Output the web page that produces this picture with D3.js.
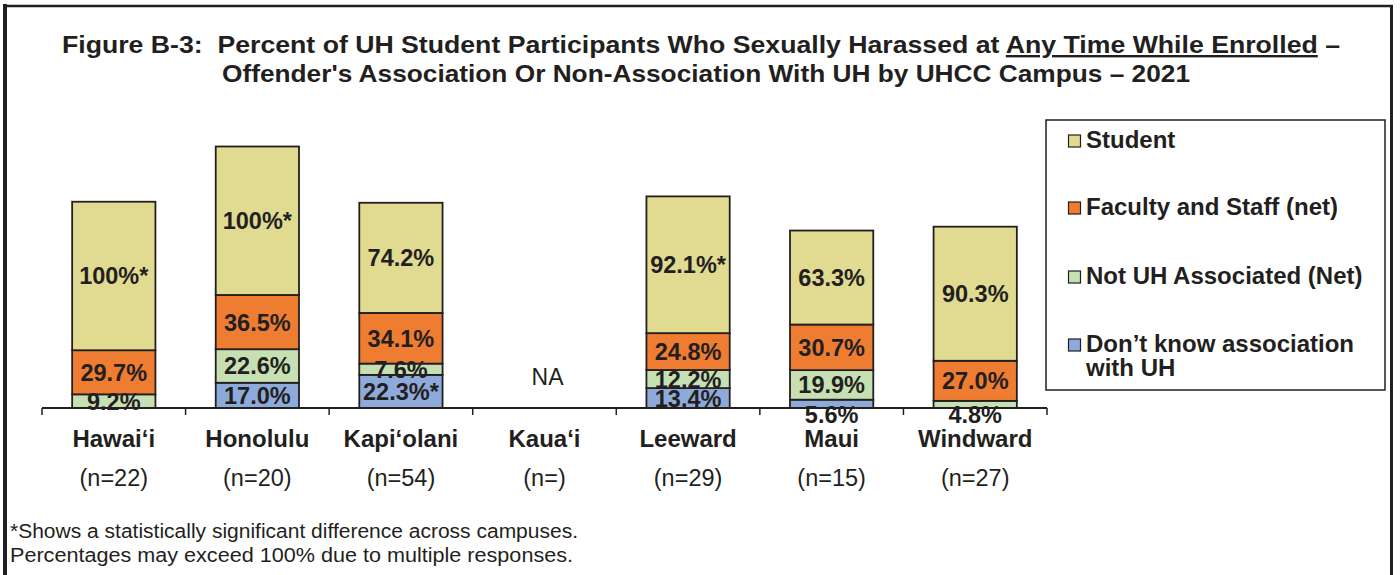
<!DOCTYPE html>
<html>
<head>
<meta charset="utf-8">
<script src="https://cdn.jsdelivr.net/npm/d3@7"></script>
<style>
  body { margin: 0; background: #fff; }
  text { font-family: "Liberation Sans", Arial, sans-serif; fill: #231f20; white-space: pre; }
</style>
</head>
<body>
<script>
const campuses = ["Hawai‘i", "Honolulu", "Kapi‘olani", "Kaua‘i", "Leeward", "Maui", "Windward"];
const nLabels = ["(n=22)", "(n=20)", "(n=54)", "(n=)", "(n=29)", "(n=15)", "(n=27)"];
const dontKnow = [null, 17.0, 22.3, null, 13.4, 5.6, null];
const notUH = [9.2, 22.6, 7.6, null, 12.2, 19.9, 4.8];
const faculty = [29.7, 36.5, 34.1, null, 24.8, 30.7, 27.0];
const student = [100, 100, 74.2, null, 92.1, 63.3, 90.3];
// asterisk = significant difference across campuses
const sigDontKnow = [false, false, true, false, false, false, false];
const sigStudent = [true, true, false, false, true, false, false];
const seriesNames = ["Student", "Faculty and Staff (net)", "Not UH Associated (Net)", "Don’t know association|with UH"];

const W = 1400, H = 575;
const keys = ["dontKnow", "notUH", "faculty", "student"];
const colors = { dontKnow: "#8eaadb", notUH: "#c6e0b4", faculty: "#ee7d31", student: "#e0db91" };
const sigs = { dontKnow: sigDontKnow, student: sigStudent };
const vals = { dontKnow, notUH, faculty, student };

const rows = campuses.map((c, i) => ({
  campus: c, i: i, na: student[i] == null,
  dontKnow: dontKnow[i] || 0, notUH: notUH[i] || 0, faculty: faculty[i] || 0, student: student[i] || 0
}));

const svg = d3.select("body").append("svg").attr("width", W).attr("height", H);

// frame
svg.append("line").attr("x1", 5).attr("x2", 5).attr("y1", 4).attr("y2", H)
  .attr("stroke", "#231f20").attr("stroke-width", 4);
svg.append("line").attr("x1", 3).attr("x2", 1393).attr("y1", 6).attr("y2", 6)
  .attr("stroke", "#231f20").attr("stroke-width", 2.5);
svg.append("line").attr("x1", 1391.5).attr("x2", 1391.5).attr("y1", 5).attr("y2", H)
  .attr("stroke", "#231f20").attr("stroke-width", 3);

// title
const t1 = svg.append("text").attr("x", 62).attr("y", 53)
  .attr("font-size", 24).attr("font-weight", "bold")
  .attr("textLength", 1278).attr("lengthAdjust", "spacingAndGlyphs");
t1.append("tspan").text("Figure B-3:  Percent of UH Student Participants Who Sexually Harassed at ");
t1.append("tspan").attr("text-decoration", "underline").text("Any Time While Enrolled");
t1.append("tspan").text(" –");
svg.append("text").attr("x", 222).attr("y", 82)
  .attr("font-size", 24).attr("font-weight", "bold")
  .attr("textLength", 968).attr("lengthAdjust", "spacingAndGlyphs")
  .text("Offender's Association Or Non-Association With UH by UHCC Campus – 2021");

// scales
const x = d3.scaleBand().domain(campuses).range([42, 1047]).paddingInner(0.42).paddingOuter(0.21);
const y = d3.scaleLinear().domain([0, 180]).range([408, 408 - 180 * 1.485]);

const stack = d3.stack().keys(keys)(rows);

const g = svg.append("g");
stack.forEach(layer => {
  g.selectAll(null)
    .data(layer.filter(d => !d.data.na && d[1] - d[0] > 0))
    .join("rect")
    .attr("x", d => x(d.data.campus))
    .attr("y", d => y(d[1]))
    .attr("width", x.bandwidth())
    .attr("height", d => y(d[0]) - y(d[1]))
    .attr("fill", colors[layer.key])
    .attr("stroke", "#231f20")
    .attr("stroke-width", 1.8);
});

// value labels
stack.forEach(layer => {
  g.selectAll(null)
    .data(layer.filter(d => !d.data.na && d[1] - d[0] > 0))
    .join("text")
    .attr("x", d => x(d.data.campus) + x.bandwidth() / 2)
    .attr("y", d => {
      const h = y(d[0]) - y(d[1]);
      if (h < 10) return y(0) + 15;
      return (y(d[0]) + y(d[1])) / 2 + 8.5;
    })
    .attr("text-anchor", "middle")
    .attr("font-size", 23.5).attr("font-weight", "bold")
    .text(d => {
      const v = vals[layer.key][d.data.i];
      const s = sigs[layer.key] && sigs[layer.key][d.data.i] ? "*" : "";
      return (v === 100 ? "100" : v.toFixed(1)) + "%" + s;
    });
});

// NA
svg.selectAll(null).data(rows.filter(d => d.na)).join("text")
  .attr("x", d => x(d.campus) + x.bandwidth() / 2 + 3)
  .attr("y", 385)
  .attr("text-anchor", "middle").attr("font-size", 23)
  .text("NA");

// axis
const axis = svg.append("g");
axis.append("line").attr("x1", 42).attr("x2", 1047).attr("y1", y(0)).attr("y2", y(0))
  .attr("stroke", "#231f20").attr("stroke-width", 2);
const bounds = campuses.map(c => x(c) - x.step() * x.paddingInner() / 2).concat([1047]);
bounds[0] = 42;
axis.selectAll(null).data(bounds).join("line")
  .attr("x1", d => d).attr("x2", d => d)
  .attr("y1", y(0)).attr("y2", y(0) + 7)
  .attr("stroke", "#231f20").attr("stroke-width", 1.5);

axis.selectAll(null).data(campuses).join("text")
  .attr("x", d => x(d) + x.bandwidth() / 2)
  .attr("y", 447)
  .attr("text-anchor", "middle")
  .attr("font-size", 24).attr("font-weight", "bold")
  .text(d => d);

axis.selectAll(null).data(nLabels).join("text")
  .attr("x", (d, i) => x(campuses[i]) + x.bandwidth() / 2)
  .attr("y", 486)
  .attr("text-anchor", "middle")
  .attr("font-size", 23.5)
  .text(d => d);

// legend
const legend = svg.append("g");
legend.append("rect").attr("x", 1046).attr("y", 120).attr("width", 339).attr("height", 270)
  .attr("fill", "#fff").attr("stroke", "#231f20").attr("stroke-width", 1.5);
const legendKeys = ["student", "faculty", "notUH", "dontKnow"];
const legendY = [148, 215, 284, 352];
legendKeys.forEach((k, i) => {
  legend.append("rect")
    .attr("x", 1068.5).attr("y", legendY[i] - 13).attr("width", 12).attr("height", 12)
    .attr("fill", colors[k]).attr("stroke", "#231f20").attr("stroke-width", 1.2);
  const lines = seriesNames[i].split("|");
  lines.forEach((ln, j) => {
    legend.append("text")
      .attr("x", 1086).attr("y", legendY[i] + j * 24)
      .attr("font-size", 24).attr("font-weight", "bold")
      .text(ln);
  });
});

// footnote
svg.append("text").attr("x", 10).attr("y", 538).attr("font-size", 20)
  .attr("textLength", 568).attr("lengthAdjust", "spacingAndGlyphs")
  .text("*Shows a statistically significant difference across campuses.");
svg.append("text").attr("x", 10).attr("y", 562).attr("font-size", 20)
  .attr("textLength", 563).attr("lengthAdjust", "spacingAndGlyphs")
  .text("Percentages may exceed 100% due to multiple responses.");
</script>
</body>
</html>
